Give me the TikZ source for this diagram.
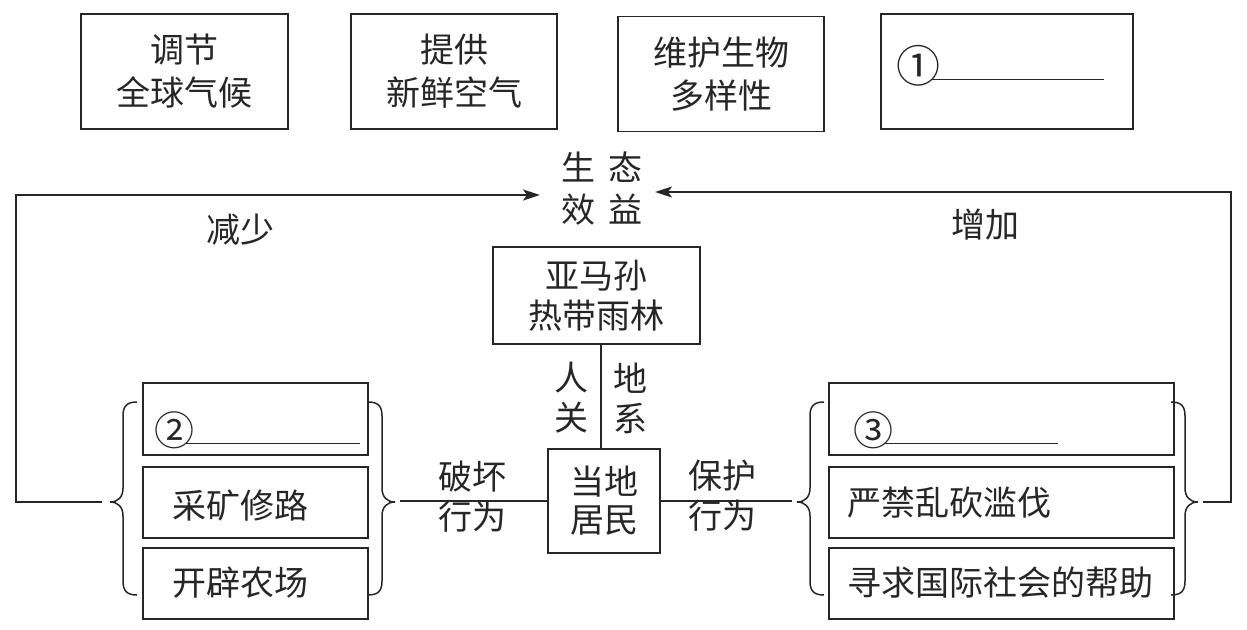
\documentclass[tikz,border=0pt]{standalone}
\usepackage{fontspec}
\setmainfont{Noto Sans CJK SC}
\usetikzlibrary{arrows.meta}
\begin{document}
\begin{tikzpicture}[x=1pt,y=-1pt,
  every node/.style={font=\fontsize{34}{40}\selectfont, inner sep=0pt, text=black!85},
  box/.style={draw=black!85, line width=1.5pt, align=center},
  txt/.style={align=center},
  ln/.style={line width=1.5pt, draw=black!85},
  arr/.style={ln, -{Stealth[length=17pt,width=11pt,inset=4pt]}},
  curlyb/.pic={\draw[ln] (27,-100) .. controls (17,-100) and (13,-96) .. (13,-86) -- (13,-14) .. controls (13,-5) and (8,0) .. (0,0) .. controls (8,0) and (13,5) .. (13,14) -- (13,79) .. controls (13,89) and (17,93) .. (27,93);}
]
\useasboundingbox (0,0) rectangle (1247,629);
% top boxes
\node[box, minimum width=207pt, minimum height=115pt, font=\fontsize{34}{43}\selectfont] (b1) at (184.5,71.5) {调节\\全球气候};
\node[box, minimum width=206pt, minimum height=115pt, font=\fontsize{34}{43}\selectfont] (b2) at (454,71.5) {提供\\新鲜空气};
\node[box, minimum width=206pt, minimum height=115pt, font=\fontsize{34}{43}\selectfont] (b3) at (721,74) {维护生物\\多样性};
\node[box, minimum width=252pt, minimum height=115pt] (b4) at (1007,71.5) {};
\node[anchor=base west] (q1) at (896,82) {{\fontsize{44}{44}\selectfont ①}\hspace{-9pt}\rule[2pt]{173pt}{1.3pt}};
% ecological benefit
\node[txt, font=\fontsize{34}{42}\selectfont] (eco) at (602,189) {生\hspace{14pt}态\\效\hspace{14pt}益};
\node (dec) at (240,230) {减少};
\node (inc) at (985,225) {增加};
% amazon
\node[box, minimum width=207pt, minimum height=97pt] (amazon) at (596.5,295.5) {亚马孙\\热带雨林};
\node[txt] (renguan) at (571,398) {人\\关};
\node[txt] (dixi) at (630,398) {地\\系};
% residents
\node[box, minimum width=112pt, minimum height=104pt, font=\fontsize{34}{38}\selectfont] (res) at (604,501) {当地\\居民};
\node[txt] (pohuai) at (472,497) {破坏\\行为};
\node[txt] (baohu) at (722,496) {保护\\行为};
% left group
\node[box, minimum width=225pt, minimum height=72pt] (l1) at (255.5,419) {};
\node[box, minimum width=225pt, minimum height=71pt] (l2) at (255.5,502.5) {};
\node[box, minimum width=225pt, minimum height=71pt] (l3) at (255.5,583.5) {};
\node[anchor=base west] (q2) at (154,445) {{\fontsize{40}{40}\selectfont ②}\hspace{-8pt}\rule[1pt]{174pt}{1.3pt}};
\node[anchor=west] (l2t) at (172,505) {采矿修路};
\node[anchor=west] (l3t) at (172,583) {开辟农场};
% right group
\node[box, minimum width=345pt, minimum height=72pt] (r1) at (1001.5,419) {};
\node[box, minimum width=345pt, minimum height=71pt] (r2) at (1001.5,502.5) {};
\node[box, minimum width=345pt, minimum height=71pt] (r3) at (1001.5,583.5) {};
\node[anchor=base west] (q3) at (853,445) {{\fontsize{40}{40}\selectfont ③}\hspace{-8pt}\rule[1pt]{173pt}{1.3pt}};
\node[anchor=west] (r2t) at (847,503) {严禁乱砍滥伐};
\node[anchor=west] (r3t) at (847,583) {寻求国际社会的帮助};
% braces
\pic at (110,502) {curlyb};
\pic[xscale=-1] at (395,502) {curlyb};
\pic at (797,502) {curlyb};
\pic[xscale=-1] at (1198,502) {curlyb};
% connectors
\coordinate (rel) at (601,0);
\draw[ln] (amazon.south -| rel) -- (res.north -| rel);
\coordinate (lmid) at (400,501);
\coordinate (rmid) at (792,501);
\draw[ln] (lmid) -- (res.west);
\draw[ln] (res.east) -- (rmid);
\coordinate (lout) at (102,502);
\coordinate (lc) at (16,195);
\coordinate (ecoL) at (540,195);
\draw[arr] (lout) -| (lc) -- (ecoL);
\coordinate (rout) at (1203,502);
\coordinate (rc) at (1231,192);
\coordinate (ecoR) at (655,192);
\draw[arr] (rout) -| (rc) -- (ecoR);
\end{tikzpicture}
\end{document}
